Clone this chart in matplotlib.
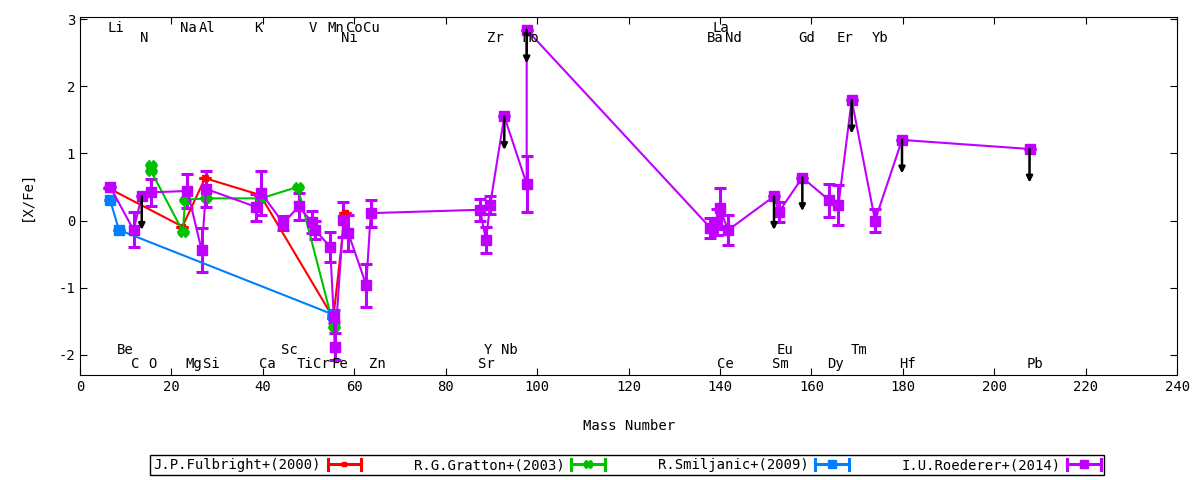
import matplotlib
matplotlib.use("Agg")
import matplotlib.pyplot as plt
from matplotlib.legend_handler import HandlerBase
from matplotlib.lines import Line2D

plt.rcParams['font.family'] = ['DejaVu Sans Mono']
plt.rcParams['axes.unicode_minus'] = False

# J.P.Fulbright+(2000)
ful_x = [6.3, 22.4, 27.35, 39.4, 55.4, 58.0]
ful_y = [0.48, -0.09, 0.63, 0.38, -1.45, 0.11]

# R.G.Gratton+(2003)
gra_x = [15.5, 15.5, 22.5, 23.0, 27.6, 39.6, 47.6, 55.5]
gra_y = [0.83, 0.74, -0.165, 0.31, 0.33, 0.33, 0.50, -1.58]

# R.Smiljanic+(2009)
smi_x = [6.56, 8.5, 55.4]
smi_y = [0.31, -0.14, -1.40]

# I.U.Roederer+(2014): x, [X/Fe], error, upper limit
roe_x = [6.6, 11.7, 13.5, 15.5, 23.5, 26.6, 27.6, 38.6, 39.6, 44.5, 47.8,
         50.7, 51.4, 54.7, 55.5, 55.7, 57.6, 58.7, 62.6, 63.6, 87.5, 88.8,
         89.7, 92.8, 97.7, 97.7, 137.9, 139.4, 139.9, 141.8, 151.8, 152.9,
         158.0, 163.9, 165.9, 168.8, 173.9, 179.8, 207.7]
roe_y = [0.50, -0.14, 0.36, 0.42, 0.44, -0.44, 0.47, 0.20, 0.41, -0.04, 0.21,
         -0.02, -0.14, -0.39, -1.43, -1.88, 0.01, -0.19, -0.96, 0.11, 0.16, -0.29,
         0.23, 1.55, 0.545, 2.84, -0.11, -0.02, 0.18, -0.14, 0.36, 0.13,
         0.64, 0.30, 0.23, 1.795, 0.0, 1.20, 1.065]
roe_err = [0.0, 0.26, 0.0, 0.20, 0.25, 0.33, 0.27, 0.20, 0.33, 0.10, 0.20,
           0.16, 0.14, 0.22, 0.10, 0.20, 0.26, 0.27, 0.32, 0.20, 0.16, 0.19,
           0.14, 0.0, 0.42, 0.0, 0.15, 0.19, 0.30, 0.22, 0.0, 0.15,
           0.0, 0.25, 0.30, 0.0, 0.17, 0.0, 0.0]
roe_ul = [0, 0, 1, 0, 0, 0, 0, 0, 0, 0, 0,
          0, 0, 0, 0, 0, 0, 0, 0, 0, 0, 0,
          0, 1, 0, 1, 0, 0, 0, 0, 1, 0,
          1, 0, 0, 1, 0, 1, 1]

# element names, two rows on top and two at the bottom
top1 = [("Li", 7.8), ("Na", 23.8), ("Al", 27.8), ("K", 38.9), ("V", 51.0),
        ("Mn", 56.0), ("Co", 60.0), ("Cu", 63.7), ("La", 140.1)]
top2 = [("N", 14.0), ("Ni", 58.9), ("Zr", 90.9), ("Mo", 98.7), ("Ba", 139.0),
        ("Nd", 143.0), ("Gd", 159.0), ("Er", 167.3), ("Yb", 175.0)]
bot1 = [("Be", 9.8), ("Sc", 45.7), ("Y", 89.2), ("Nb", 94.0), ("Eu", 154.1),
        ("Tm", 170.4)]
bot2 = [("C", 12.0), ("O", 15.75), ("Mg", 24.9), ("Si", 28.7), ("Ca", 40.9),
        ("Ti", 49.2), ("Cr", 52.7), ("Fe", 56.9), ("Zn", 65.0), ("Sr", 88.8),
        ("Ce", 141.1), ("Sm", 153.1), ("Dy", 165.2), ("Hf", 181.0), ("Pb", 209.0)]


class ErrHandler(HandlerBase):
    def create_artists(self, legend, orig_handle, xdescent, ydescent,
                       width, height, fontsize, trans):
        c = orig_handle.get_color()
        y = height / 2 - ydescent
        x0, x1 = -xdescent, width - xdescent
        h = 4
        a = Line2D([x0, x1], [y, y], color=c, lw=2.2, transform=trans)
        b = Line2D([x0, x0], [y - h, y + h], color=c, lw=2.2, transform=trans)
        d = Line2D([x1, x1], [y - h, y + h], color=c, lw=2.2, transform=trans)
        m = Line2D([(x0 + x1) / 2], [y], color=c, marker=orig_handle.get_marker(),
                   ms=orig_handle.get_markersize(), ls='none', transform=trans)
        return [a, b, d, m]


fig = plt.figure(figsize=(12, 4.8), dpi=100)
ax = fig.add_axes([0.0667, 0.2187, 0.9143, 0.7459])

series = [
    ("J.P.Fulbright+(2000)", ful_x, ful_y, [0] * len(ful_x), "#ff0000", "s", 4),
    ("R.G.Gratton+(2003)", gra_x, gra_y, [0] * len(gra_x), "#00c000", "X", 7),
    ("R.Smiljanic+(2009)", smi_x, smi_y, [0] * len(smi_x), "#0080ff", "s", 7),
    ("I.U.Roederer+(2014)", roe_x, roe_y, roe_err, "#c000ff", "s", 7.5),
]

handles = []
for lab, xs, ys, es, c, mk, ms in series:
    ax.errorbar(xs, ys, yerr=es, color=c, marker=mk, ms=ms, lw=1.5,
                elinewidth=2.2, capsize=4, capthick=2.2)
    handles.append(Line2D([], [], color=c, marker=mk, ms=ms * 0.75, label=lab))

for x, y, ul in zip(roe_x, roe_y, roe_ul):
    if ul:
        ax.annotate("", xy=(x, y - 0.5), xytext=(x, y),
                    arrowprops=dict(arrowstyle="-|>", color="black", lw=1.8,
                                    mutation_scale=9, shrinkA=0, shrinkB=0))

for rows, yy in [(top1, 2.866), (top2, 2.717), (bot1, -1.926), (bot2, -2.134)]:
    for name, x in rows:
        ax.text(x, yy, name, ha="center", va="center", fontsize=10)

ax.set_xlim(0, 240)
ax.set_ylim(-2.3, 3.03)
ax.set_xticks(range(0, 241, 20))
ax.set_yticks(range(-2, 4))
ax.tick_params(direction="in", top=True, right=True, length=5, labelsize=10)
ax.set_xlabel("Mass Number", fontsize=10, labelpad=18)
ax.set_ylabel("[X/Fe]", fontsize=10, labelpad=18)

leg = fig.legend(handles=handles, loc="center", bbox_to_anchor=(0.5225, 0.031),
                 ncol=4, markerfirst=False, handler_map={Line2D: ErrHandler()},
                 handlelength=2.4, handletextpad=0.5, columnspacing=3.8,
                 fontsize=10, fancybox=False, framealpha=1,
                 borderpad=0.2)
leg.get_frame().set_edgecolor("black")
leg.get_frame().set_linewidth(1.0)

fig.savefig("out.png", dpi=100)
